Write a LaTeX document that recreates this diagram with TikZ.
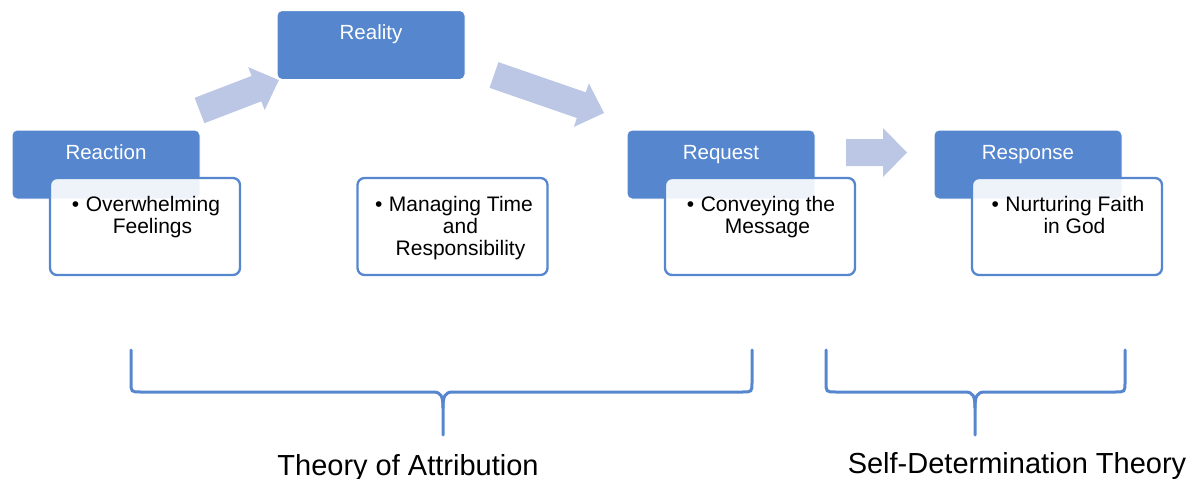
\documentclass[tikz,border=0pt]{standalone}
\usepackage{fontspec}
\setmainfont{Liberation Sans}
\definecolor{accent}{RGB}{86,135,206}
\definecolor{flowarrow}{RGB}{187,199,228}
% hollow block arrow along the local x axis: length, shaft half-width, head half-width, head length
\newcommand\blkarrow[4]{(0,-#2) -- (#1-#4,-#2) -- (#1-#4,-#3) -- (#1,0) -- (#1-#4,#3) -- (#1-#4,#2) -- (0,#2) -- cycle}
\tikzset{
  hdr/.style={draw=white, line width=1pt, fill=accent, rounded corners=5pt,
    minimum width=188pt, minimum height=69pt, inner sep=0pt},
  hdrtext/.style={anchor=base, text=white, inner sep=0pt,
    font=\fontsize{20.5}{22}\selectfont},
  body/.style={draw=accent, line width=2.3pt, fill=white, fill opacity=0.9,
    rounded corners=7pt, minimum width=190pt, minimum height=97pt, inner sep=0pt},
  bodytext/.style={anchor=north, align=center, inner sep=0pt, text=black,
    font=\fontsize{21}{22}\selectfont},
  flow/.style={fill=flowarrow, draw=none},
  brace/.style={draw=accent, line width=3pt, line cap=round},
  theory/.style={anchor=base, inner sep=0pt, font=\fontsize{29}{32}\selectfont},
}
\newcommand\blt{\textbullet\hspace{6.5pt}}
\begin{document}
\begin{tikzpicture}[x=1pt,y=-1pt]
\useasboundingbox (0,0) rectangle (1197,479);

% flow arrows (drawn first, under the boxes)
\coordinate (a1) at (199.5,110.5);
\coordinate (a2) at (494,75);
\coordinate (a3) at (846,152.5);
\fill[flow, shift={(a1)}, rotate=21] \blkarrow{85}{13.6}{23}{24};
\fill[flow, shift={(a2)}, rotate=-19.06] \blkarrow{116.4}{13.6}{23}{24};
\fill[flow, shift={(a3)}] \blkarrow{61}{13.5}{24.5}{24};

% Reaction
\node[hdr] (reaction) at (106,164.5) {};
\node[hdrtext] (reactionlbl) at (106,159.5) {Reaction};
\node[body] (reactionbody) at (145,226.5) {};
\node[bodytext] (reactiontxt) at (146,196) {\blt Overwhelming\\\hspace*{13pt}Feelings};

% Reality
\node[hdr] (reality) at (371,45) {};
\node[hdrtext] (realitylbl) at (371,39.5) {Reality};
\node[body] (realitybody) at (452.5,226.5) {};
\node[bodytext] (realitytxt) at (454,196) {\blt Managing Time\\\hspace*{13pt}and\\\hspace*{13pt}Responsibility};

% Request
\node[hdr] (request) at (721,164.5) {};
\node[hdrtext] (requestlbl) at (721,159.5) {Request};
\node[body] (requestbody) at (760,226.5) {};
\node[bodytext] (requesttxt) at (761,196) {\blt Conveying the\\\hspace*{13pt}Message};

% Response
\node[hdr] (response) at (1028,164.5) {};
\node[hdrtext] (responselbl) at (1028,159.5) {Response};
\node[body] (responsebody) at (1067,226.5) {};
\node[bodytext] (responsetxt) at (1068,196) {\blt Nurturing Faith\\\hspace*{13pt}in God};

% braces grouping the stages
\draw[brace] (131,350) -- (131,382) .. controls (131,392) .. (141,392) -- (433,392)
  .. controls (441,392) and (443,396) .. (443,408) -- (443,435);
\draw[brace] (752,350) -- (752,382) .. controls (752,392) .. (742,392) -- (453,392)
  .. controls (445,392) and (443,396) .. (443,408);
\draw[brace] (826,350) -- (826,382) .. controls (826,392) .. (836,392) -- (965,392)
  .. controls (973,392) and (975,396) .. (975,408) -- (975,435);
\draw[brace] (1125,350) -- (1125,382) .. controls (1125,392) .. (1115,392) -- (985,392)
  .. controls (977,392) and (975,396) .. (975,408);

\node[theory] (attribution) at (408,475) {Theory of Attribution};
\node[theory] (selfdet) at (1017,473.5) {Self-Determination Theory};
\end{tikzpicture}
\end{document}
